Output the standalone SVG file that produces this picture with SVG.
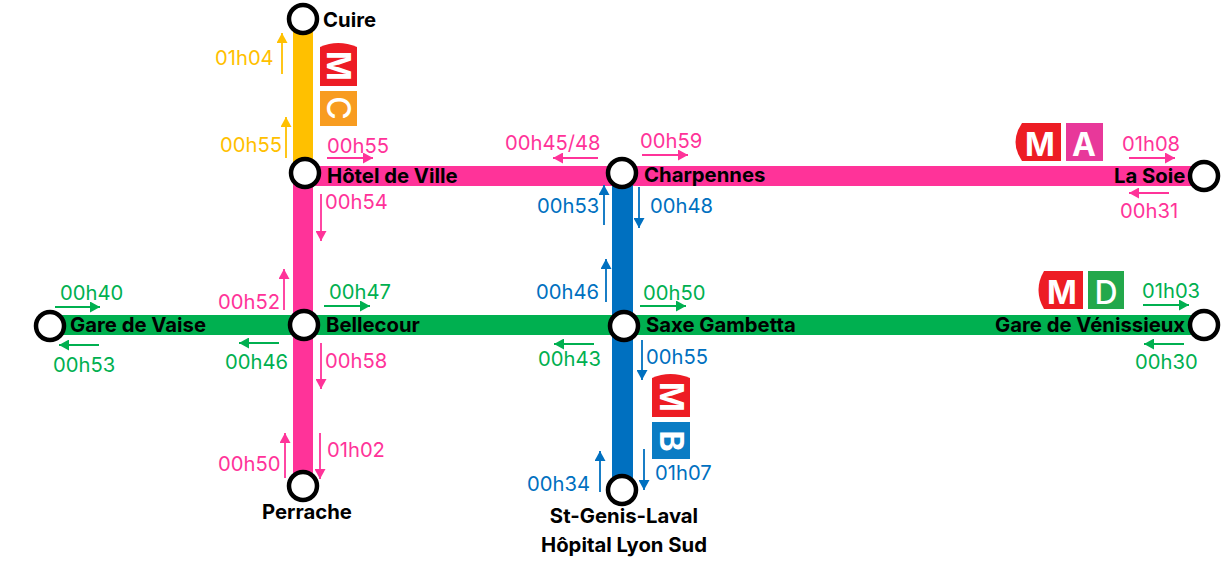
<svg xmlns="http://www.w3.org/2000/svg" width="1227" height="563" viewBox="0 0 1227 563">
<style>
text{font-family:"Inter","Liberation Sans",sans-serif}
.s{font-size:20.3px;font-weight:700;fill:#000}
.t{font-size:20.2px}
.y{fill:#ffc000}.p{fill:#ff3399}.b{fill:#0070c0}.g{fill:#00b050}
.ln{fill:none;stroke-width:1.8}
.st{fill:#fff;stroke:#000;stroke-width:4.5}
.lg{font-size:32px;font-weight:700;fill:#fff;text-anchor:middle}
.lt{font-weight:500}
</style>
<defs>
<marker id="ay" markerUnits="userSpaceOnUse" markerWidth="11" markerHeight="11" refX="10" refY="5.5" orient="auto"><path d="M0 0L10 5.5L0 11Z" fill="#ffc000"/></marker>
<marker id="ap" markerUnits="userSpaceOnUse" markerWidth="11" markerHeight="11" refX="10" refY="5.5" orient="auto"><path d="M0 0L10 5.5L0 11Z" fill="#ff3399"/></marker>
<marker id="ab" markerUnits="userSpaceOnUse" markerWidth="11" markerHeight="11" refX="10" refY="5.5" orient="auto"><path d="M0 0L10 5.5L0 11Z" fill="#0070c0"/></marker>
<marker id="ag" markerUnits="userSpaceOnUse" markerWidth="11" markerHeight="11" refX="10" refY="5.5" orient="auto"><path d="M0 0L10 5.5L0 11Z" fill="#00b050"/></marker>
</defs>
<rect width="1227" height="563" fill="#fff"/>
<g id="lines">
<rect x="293" y="19" width="20" height="146" fill="#ffc000"/>
<rect x="293" y="166" width="20" height="320" fill="#ff3399"/>
<rect x="305" y="166" width="899" height="20" fill="#ff3399"/>
<rect x="612" y="173" width="21" height="317" fill="#0070c0"/>
<rect x="50" y="315" width="1154" height="20" fill="#00b050"/>
</g>
<g id="connectors" class="ln">
<g stroke="#ffc000">
<path d="M282 74V33" marker-end="url(#ay)"/><path d="M286 158V117" marker-end="url(#ay)"/>
</g>
<g stroke="#ff3399">
<path d="M327 158H373" marker-end="url(#ap)"/><path d="M321 194V241" marker-end="url(#ap)"/>
<path d="M284 310V269" marker-end="url(#ap)"/><path d="M321 343V389" marker-end="url(#ap)"/>
<path d="M285 478V433" marker-end="url(#ap)"/><path d="M320 433V479" marker-end="url(#ap)"/>
<path d="M598 158H553" marker-end="url(#ap)"/><path d="M642 155H688" marker-end="url(#ap)"/>
<path d="M1129 158H1175" marker-end="url(#ap)"/><path d="M1169 193H1129" marker-end="url(#ap)"/>
</g>
<g stroke="#0070c0">
<path d="M604 225V185" marker-end="url(#ab)"/><path d="M639 187V228" marker-end="url(#ab)"/>
<path d="M606 302V259" marker-end="url(#ab)"/><path d="M642 340V380" marker-end="url(#ab)"/>
<path d="M600 492V451" marker-end="url(#ab)"/><path d="M644 449V490" marker-end="url(#ab)"/>
</g>
<g stroke="#00b050">
<path d="M55 307H100" marker-end="url(#ag)"/><path d="M99 345H59" marker-end="url(#ag)"/>
<path d="M279 343H239" marker-end="url(#ag)"/><path d="M324 306H370" marker-end="url(#ag)"/>
<path d="M640 306H686" marker-end="url(#ag)"/><path d="M594 344H554" marker-end="url(#ag)"/>
<path d="M1143 305H1189" marker-end="url(#ag)"/><path d="M1184 344H1144" marker-end="url(#ag)"/>
</g>
</g>
<g id="times" class="t">
<text class="y" x="215" y="65">01h04</text><text class="y" x="220" y="152">00h55</text>
<text class="p" x="327" y="153">00h55</text><text class="p" x="325" y="209">00h54</text>
<text class="p" x="218" y="309">00h52</text><text class="p" x="325" y="368">00h58</text>
<text class="p" x="218" y="471">00h50</text><text class="p" x="327" y="457">01h02</text>
<text class="p" x="505" y="150">00h45/48</text><text class="p" x="640" y="148">00h59</text>
<text class="p" x="1122" y="151">01h08</text><text class="p" x="1120" y="218">00h31</text>
<text class="b" x="537" y="213">00h53</text><text class="b" x="650" y="213">00h48</text>
<text class="b" x="536" y="299">00h46</text><text class="b" x="646" y="364">00h55</text>
<text class="b" x="527" y="491">00h34</text><text class="b" x="655" y="480">01h07</text>
<text class="g" x="60" y="300">00h40</text><text class="g" x="53" y="372">00h53</text>
<text class="g" x="225" y="369">00h46</text><text class="g" x="329" y="299">00h47</text>
<text class="g" x="643" y="300">00h50</text><text class="g" x="538" y="366">00h43</text>
<text class="g" x="1142" y="298">01h03</text><text class="g" x="1135" y="369">00h30</text>
</g>
<g id="logo-c">
<path d="M320 86V47Q338 39 357 47V86Z" fill="#ed1c24"/>
<text class="lg" transform="translate(338.500 66) rotate(90)" y="11.500">M</text>
<rect x="320" y="91" width="37" height="35" fill="#f89c20"/>
<text class="lg lt" transform="translate(338.500 108) rotate(90)" y="11.500">C</text>
</g>
<g id="logo-a">
<path d="M1061 123V161H1022Q1009 142 1022 123Z" fill="#ed1c24"/>
<text class="lg" x="1040" y="156">M</text>
<rect x="1066" y="123" width="37" height="38" fill="#e8389a"/>
<text class="lg" x="1084" y="156">A</text>
</g>
<g id="logo-d">
<path d="M1083 271V309H1044Q1033 290 1044 271Z" fill="#ed1c24"/>
<text class="lg" x="1062" y="304">M</text>
<rect x="1088" y="271" width="36" height="38" fill="#23a84b"/>
<text class="lg lt" x="1106" y="304">D</text>
</g>
<g id="logo-b">
<path d="M652 417V378Q670 370 690 378V417Z" fill="#ed1c24"/>
<text class="lg" transform="translate(671 397) rotate(90)" y="11.500">M</text>
<rect x="652" y="422" width="38" height="37" fill="#0a7cc4"/>
<text class="lg" transform="translate(671 441) rotate(90)" y="11.500">B</text>
</g>
<g id="station-cuire"><circle class="st" cx="303" cy="19" r="14"/><text class="s" x="323" y="27">Cuire</text></g>
<g id="station-hotel"><circle class="st" cx="305" cy="173" r="14"/><text class="s" x="327" y="183">Hôtel de Ville</text></g>
<g id="station-charpennes"><circle class="st" cx="622" cy="173" r="14"/><text class="s" x="644" y="182">Charpennes</text></g>
<g id="station-lasoie"><circle class="st" cx="1204" cy="176" r="14"/><text class="s" x="1114" y="183">La Soie</text></g>
<g id="station-vaise"><circle class="st" cx="50" cy="326" r="14"/><text class="s" x="70" y="332">Gare de Vaise</text></g>
<g id="station-bellecour"><circle class="st" cx="304" cy="325" r="14"/><text class="s" x="326" y="332">Bellecour</text></g>
<g id="station-saxe"><circle class="st" cx="624" cy="326" r="14"/><text class="s" x="646" y="332">Saxe Gambetta</text></g>
<g id="station-venissieux"><circle class="st" cx="1204" cy="325" r="14"/><text class="s" x="995" y="332">Gare de Vénissieux</text></g>
<g id="station-perrache"><circle class="st" cx="303" cy="486" r="14"/><text class="s" x="262" y="519">Perrache</text></g>
<g id="station-stgenis"><circle class="st" cx="622" cy="490" r="14"/><text class="s" x="624" y="523" text-anchor="middle">St-Genis-Laval</text><text class="s" x="624" y="552" text-anchor="middle">Hôpital Lyon Sud</text></g>
</svg>
